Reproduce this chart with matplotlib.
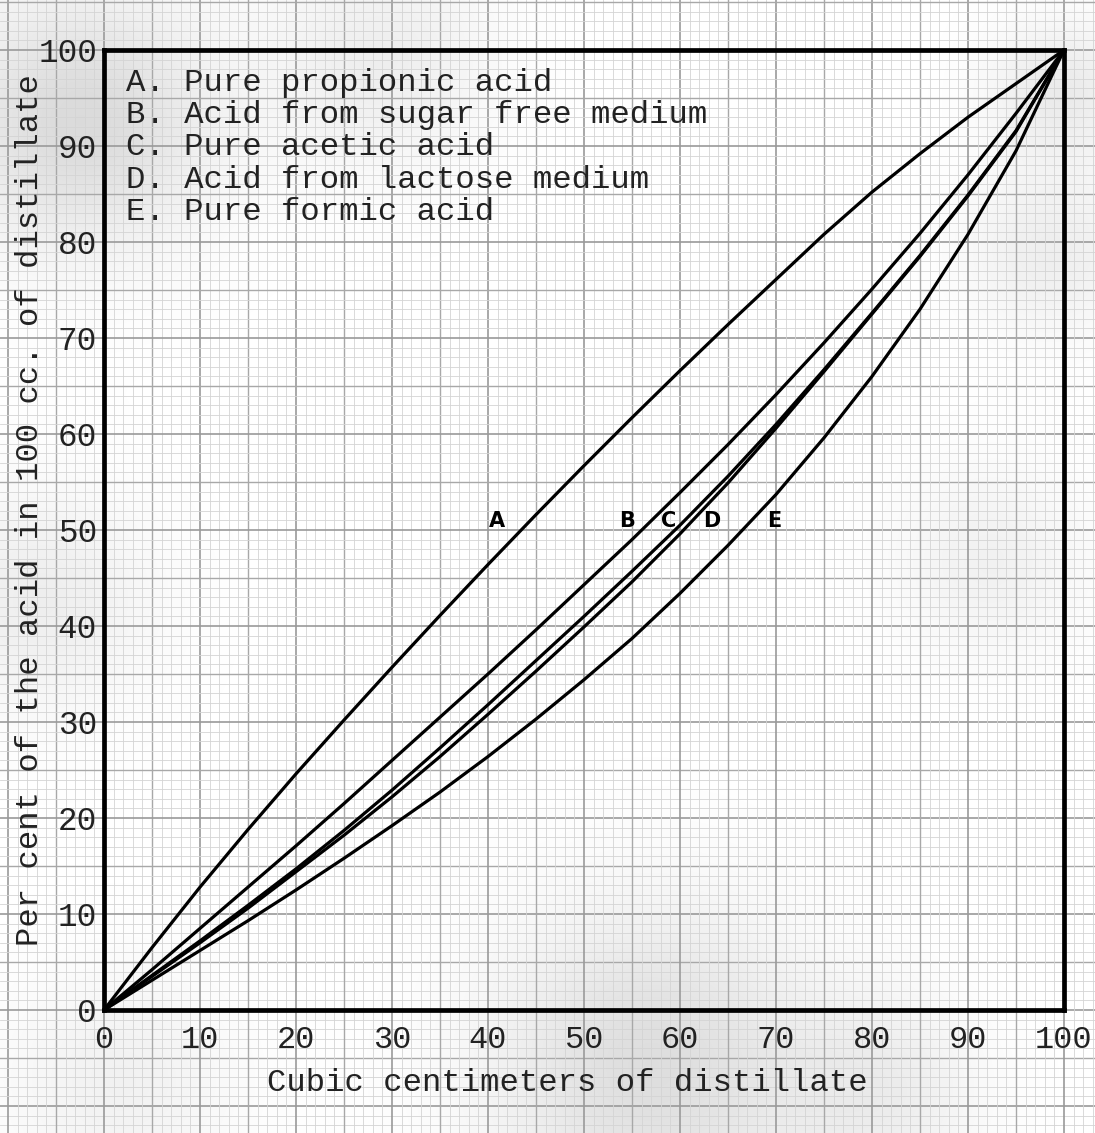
import numpy as np
import matplotlib
matplotlib.use("Agg")
import matplotlib.pyplot as plt

# valeurs (x = cc de distillat, y = % de l'acide)
x_pts = [0, 5, 10, 15, 20, 25, 30, 35, 40, 45, 50, 55, 60, 65, 70, 75, 80, 85, 90, 95, 100]

acid_a = [0, 6.5, 12.8, 18.8, 24.6, 30.2, 35.7, 41.1, 46.4, 51.6, 56.7, 61.7, 66.6,
          71.4, 76.1, 80.8, 85.2, 89.2, 93.0, 96.5, 100]
acid_b = [0, 4.2, 8.5, 12.8, 17.1, 21.5, 26.0, 30.5, 35.0, 39.6, 44.3, 49.0, 53.9,
          58.9, 64.1, 69.5, 75.1, 80.9, 87.0, 93.4, 100]
acid_c = [0, 3.6, 7.2, 10.9, 14.7, 18.7, 22.9, 27.3, 31.8, 36.4, 41.0, 45.7, 50.5,
          55.6, 61.0, 66.7, 72.6, 78.6, 84.9, 91.6, 100]
acid_d = [0, 3.5, 7.0, 10.6, 14.4, 18.2, 22.2, 26.4, 30.8, 35.3, 39.9, 44.6, 49.6,
          54.9, 60.6, 66.5, 72.5, 78.5, 84.8, 91.5, 100]
acid_e = [0, 3.1, 6.2, 9.3, 12.5, 15.8, 19.2, 22.7, 26.4, 30.3, 34.4, 38.7, 43.4,
          48.4, 53.7, 59.6, 66.0, 73.0, 80.8, 89.5, 100]

curves = [acid_a, acid_b, acid_c, acid_d, acid_e]
curve_letters = ["A", "B", "C", "D", "E"]
letter_x = [40.9, 54.5, 58.8, 63.3, 69.8]
letter_y = 50.9

legend_lines = [
    "A. Pure propionic acid",
    "B. Acid from sugar free medium",
    "C. Pure acetic acid",
    "D. Acid from lactose medium",
    "E. Pure formic acid",
]

tick_vals = list(range(0, 101, 10))

W, H = 1095, 1133
px = 9.6          # pixels par unité
x0_px, y0_px = 104, 1010   # origine (0,0) en pixels
mono = "Liberation Mono"
ink = "#222222"

fig = plt.figure(figsize=(W / 100, H / 100), dpi=100)
fig.patch.set_facecolor("white")

# papier millimétré sur toute la feuille
bg = fig.add_axes([0, 0, 1, 1])
xl = (-x0_px / px, (W - x0_px) / px)
yl = (-(H - y0_px) / px, y0_px / px)
bg.set_xlim(*xl)
bg.set_ylim(*yl)
bg.axis("off")

# taches grises du papier (x_px, y_px, rayon, intensité)
stains = [(80, 120, 90, 0.22), (380, 60, 80, 0.10), (1060, 90, 50, 0.12),
          (1050, 250, 60, 0.10), (990, 560, 70, 0.08), (40, 600, 80, 0.10),
          (650, 1065, 110, 0.20), (120, 1080, 80, 0.08), (880, 1090, 70, 0.10)]
gx, gy = np.meshgrid(np.arange(W), np.arange(H))
dark = np.zeros((H, W))
for sx, sy, r, k in stains:
    dark += k * np.exp(-((gx - sx) ** 2 + (gy - sy) ** 2) / (2 * r ** 2))
dark = np.clip(dark, 0, 0.5)
rgba = np.zeros((H, W, 4))
rgba[..., :3] = 0.35
rgba[..., 3] = dark
bg.imshow(rgba, extent=(xl[0], xl[1], yl[0], yl[1]), origin="upper",
          aspect="auto", zorder=0, interpolation="bilinear")

for v in range(-12, 106):
    if v % 10 == 0:
        c, lw = "#9a9a9a", 1.2
    elif v % 5 == 0:
        c, lw = "#a8a8a8", 1.0
    else:
        c, lw = "#d4d4d4", 0.6
    bg.axvline(v, color=c, lw=lw, zorder=1)
    bg.axhline(v, color=c, lw=lw, zorder=1)

ax = fig.add_axes([x0_px / W, (H - y0_px) / H, 100 * px / W, 100 * px / H])
ax.patch.set_alpha(0)
ax.set_xlim(0, 100)
ax.set_ylim(0, 100)
for s in ax.spines.values():
    s.set_linewidth(3.4)
    s.set_color("black")

for y in curves:
    ax.plot(x_pts, y, color="black", lw=2.3, solid_capstyle="round",
            solid_joinstyle="round", clip_on=False)

for lab, lx in zip(curve_letters, letter_x):
    ax.text(lx, letter_y, lab, ha="center", va="center", fontsize=15,
            fontweight="bold", family="DejaVu Sans", color="black")

for i, line in enumerate(legend_lines):
    ax.text(2.3, 96.6 - i * 3.37, line, ha="left", va="center", fontsize=23.3,
            family=mono, color=ink)

ax.set_xticks(tick_vals)
ax.set_yticks(tick_vals)
ax.set_xticklabels([str(t) for t in tick_vals], family=mono, fontsize=23, color=ink)
ax.set_yticklabels([str(t) for t in tick_vals], family=mono, fontsize=23.5, color=ink)
ax.tick_params(axis="both", length=0)
ax.tick_params(axis="x", pad=11)
ax.tick_params(axis="y", pad=5)

fig.text(567 / W, 1 - 1083 / H, "Cubic centimeters of distillate", ha="center",
         va="center", fontsize=23.2, family=mono, color=ink)
fig.text(30 / W, 1 - 510 / H, "Per cent of the acid in 100 cc. of distillate",
         ha="center", va="center", rotation=90, fontsize=23.2, family=mono, color=ink)

fig.savefig("out.png", dpi=100)
